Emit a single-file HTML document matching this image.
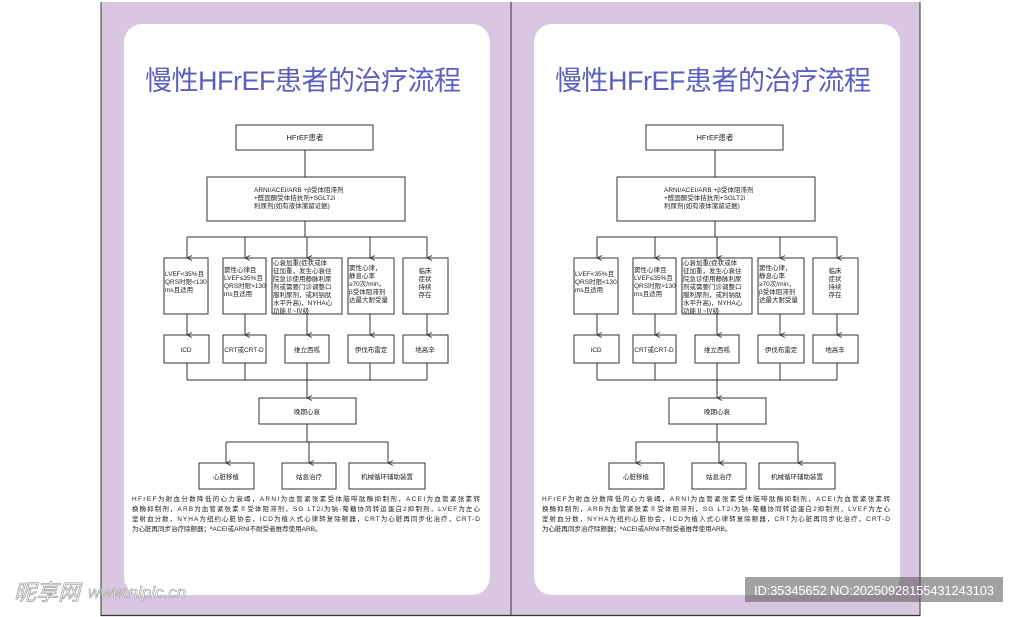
<!DOCTYPE html>
<html><head><meta charset="utf-8"><style>
html,body{margin:0;padding:0;background:#fff;width:1024px;height:617px;overflow:hidden}
svg text{font-family:"Liberation Sans","Noto Sans CJK SC",sans-serif;fill:#222}
</style></head><body>
<svg width="1024" height="617" viewBox="0 0 1024 617" xmlns="http://www.w3.org/2000/svg">
<defs>
<marker id="a" markerWidth="6" markerHeight="6" refX="3" refY="5" orient="auto" markerUnits="userSpaceOnUse"><path d="M0.5,0 L3,5 L5.5,0" fill="none" stroke="#333" stroke-width="0.8"/></marker>
</defs>
<rect x="101" y="2" width="819" height="613" fill="#d9c6e1"/>
<line x1="101" y1="2" x2="101" y2="616" stroke="#333" stroke-width="1"/>
<line x1="920" y1="2" x2="920" y2="616" stroke="#333" stroke-width="1"/>
<line x1="511" y1="2" x2="511" y2="616" stroke="#333" stroke-width="1"/>
<line x1="101" y1="615.5" x2="920" y2="615.5" stroke="#333" stroke-width="1.2"/>

<g id="L">
<rect x="124" y="24" width="366" height="571" rx="18" fill="#fff"/>
<text x="303" y="90" font-size="27" text-anchor="middle" style="fill:#5a5ec0" textLength="316">慢性HFrEF患者的治疗流程</text>
<g fill="none" stroke="#333" stroke-width="1">
<rect x="236" y="125" width="137" height="25"/>
<rect x="207" y="177" width="198" height="44"/>
<line x1="305" y1="150" x2="305" y2="177"/>
<line x1="305" y1="221" x2="305" y2="237"/>
<line x1="187" y1="237" x2="427" y2="237"/>
<line x1="187" y1="237" x2="187" y2="258" marker-end="url(#a)"/>
<line x1="245" y1="237" x2="245" y2="258" marker-end="url(#a)"/>
<line x1="307" y1="237" x2="307" y2="258" marker-end="url(#a)"/>
<line x1="370" y1="237" x2="370" y2="258" marker-end="url(#a)"/>
<line x1="427" y1="237" x2="427" y2="258" marker-end="url(#a)"/>
<rect x="164" y="258" width="44" height="56"/>
<rect x="223" y="258" width="43" height="56"/>
<rect x="272" y="258" width="70" height="56"/>
<rect x="348" y="258" width="46" height="56"/>
<rect x="403" y="258" width="45" height="56"/>
<line x1="187" y1="314" x2="187" y2="335" marker-end="url(#a)"/>
<line x1="245" y1="314" x2="245" y2="335" marker-end="url(#a)"/>
<line x1="307" y1="314" x2="307" y2="335" marker-end="url(#a)"/>
<line x1="370" y1="314" x2="370" y2="335" marker-end="url(#a)"/>
<line x1="427" y1="314" x2="427" y2="335" marker-end="url(#a)"/>
<rect x="164" y="335" width="45" height="28"/>
<rect x="223" y="335" width="43" height="28"/>
<rect x="285" y="335" width="44" height="28"/>
<rect x="348" y="335" width="46" height="28"/>
<rect x="403" y="335" width="45" height="28"/>
<line x1="187" y1="363" x2="187" y2="380"/>
<line x1="245" y1="363" x2="245" y2="380"/>
<line x1="307" y1="363" x2="307" y2="380"/>
<line x1="370" y1="363" x2="370" y2="380"/>
<line x1="427" y1="363" x2="427" y2="380"/>
<line x1="187" y1="380" x2="427" y2="380"/>
<line x1="307" y1="380" x2="307" y2="398" marker-end="url(#a)"/>
<rect x="259" y="398" width="97" height="26"/>
<line x1="307" y1="424" x2="307" y2="442"/>
<line x1="226" y1="442" x2="388" y2="442"/>
<line x1="226" y1="442" x2="226" y2="463" marker-end="url(#a)"/>
<line x1="309" y1="442" x2="309" y2="463" marker-end="url(#a)"/>
<line x1="388" y1="442" x2="388" y2="463" marker-end="url(#a)"/>
<rect x="199" y="463" width="55" height="26"/>
<rect x="282" y="463" width="54" height="26"/>
<rect x="349" y="463" width="76" height="26"/>
</g>
<g font-size="6.5">
<text x="305" y="140" text-anchor="middle" font-size="7.5">HFrEF患者</text>
<text x="254" y="192">ARNI/ACEI/ARB +β受体阻滞剂</text>
<text x="254" y="200">+醛固酮受体拮抗剂+SGLT2i</text>
<text x="254" y="208">利尿剂(如有液体潴留证据)</text>
<text x="165" y="276">LVEF&lt;35%且</text><text x="165" y="284">QRS时限&lt;130</text><text x="165" y="292">ms且适用</text>
<text x="224" y="272">窦性心律且</text><text x="224" y="280">LVEF≤35%且</text><text x="224" y="288">QRS时限&gt;130</text><text x="224" y="296">ms且适用</text>
<text x="273" y="265">心衰加重(症状或体</text><text x="273" y="273">征加重，发生心衰住</text><text x="273" y="281">院急诊使用静脉利尿</text><text x="273" y="289">剂或需要门诊调整口</text><text x="273" y="297">服利尿剂，或利钠肽</text><text x="273" y="305">水平升高)，NYHA心</text><text x="273" y="313">功能Ⅱ~Ⅳ级</text>
<text x="349" y="270">窦性心律，</text><text x="349" y="278">静息心率</text><text x="349" y="286">≥70次/min，</text><text x="349" y="294">β受体阻滞剂</text><text x="349" y="302">达最大耐受量</text>
<text x="425" y="273" text-anchor="middle">临床</text><text x="425" y="281" text-anchor="middle">症状</text><text x="425" y="289" text-anchor="middle">持续</text><text x="425" y="297" text-anchor="middle">存在</text>
<text x="186" y="352" text-anchor="middle">ICD</text>
<text x="244" y="352" text-anchor="middle">CRT或CRT-D</text>
<text x="307" y="352" text-anchor="middle">维立西呱</text>
<text x="371" y="352" text-anchor="middle">伊伐布雷定</text>
<text x="425" y="352" text-anchor="middle">地高辛</text>
<text x="307" y="414" text-anchor="middle">晚期心衰</text>
<text x="226" y="479" text-anchor="middle">心脏移植</text>
<text x="309" y="479" text-anchor="middle">姑息治疗</text>
<text x="387" y="479" text-anchor="middle">机械循环辅助装置</text>
<text x="132" y="501" textLength="348">HFrEF为射血分数降低的心力衰竭，ARNI为血管紧张素受体脑啡肽酶抑制剂，ACEI为血管紧张素转</text>
<text x="132" y="511" textLength="348">换酶抑制剂，ARB为血管紧张素Ⅱ受体阻滞剂，SG LT2i为钠-葡糖协同转运蛋白2抑制剂，LVEF为左心</text>
<text x="132" y="521" textLength="348">室射血分数，NYHA为纽约心脏协会，ICD为植入式心律转复除颤器，CRT为心脏再同步化治疗，CRT-D</text>
<text x="132" y="531">为心脏再同步治疗除颤器；ªACEI或ARNI不耐受者推荐使用ARB。</text>
</g>
</g>

<g transform="translate(410,0)">
<rect x="124" y="24" width="366" height="571" rx="18" fill="#fff"/>
<text x="303" y="90" font-size="27" text-anchor="middle" style="fill:#5a5ec0" textLength="316">慢性HFrEF患者的治疗流程</text>
<g fill="none" stroke="#333" stroke-width="1">
<rect x="236" y="125" width="137" height="25"/>
<rect x="207" y="177" width="198" height="44"/>
<line x1="305" y1="150" x2="305" y2="177"/>
<line x1="305" y1="221" x2="305" y2="237"/>
<line x1="187" y1="237" x2="427" y2="237"/>
<line x1="187" y1="237" x2="187" y2="258" marker-end="url(#a)"/>
<line x1="245" y1="237" x2="245" y2="258" marker-end="url(#a)"/>
<line x1="307" y1="237" x2="307" y2="258" marker-end="url(#a)"/>
<line x1="370" y1="237" x2="370" y2="258" marker-end="url(#a)"/>
<line x1="427" y1="237" x2="427" y2="258" marker-end="url(#a)"/>
<rect x="164" y="258" width="44" height="56"/>
<rect x="223" y="258" width="43" height="56"/>
<rect x="272" y="258" width="70" height="56"/>
<rect x="348" y="258" width="46" height="56"/>
<rect x="403" y="258" width="45" height="56"/>
<line x1="187" y1="314" x2="187" y2="335" marker-end="url(#a)"/>
<line x1="245" y1="314" x2="245" y2="335" marker-end="url(#a)"/>
<line x1="307" y1="314" x2="307" y2="335" marker-end="url(#a)"/>
<line x1="370" y1="314" x2="370" y2="335" marker-end="url(#a)"/>
<line x1="427" y1="314" x2="427" y2="335" marker-end="url(#a)"/>
<rect x="164" y="335" width="45" height="28"/>
<rect x="223" y="335" width="43" height="28"/>
<rect x="285" y="335" width="44" height="28"/>
<rect x="348" y="335" width="46" height="28"/>
<rect x="403" y="335" width="45" height="28"/>
<line x1="187" y1="363" x2="187" y2="380"/>
<line x1="245" y1="363" x2="245" y2="380"/>
<line x1="307" y1="363" x2="307" y2="380"/>
<line x1="370" y1="363" x2="370" y2="380"/>
<line x1="427" y1="363" x2="427" y2="380"/>
<line x1="187" y1="380" x2="427" y2="380"/>
<line x1="307" y1="380" x2="307" y2="398" marker-end="url(#a)"/>
<rect x="259" y="398" width="97" height="26"/>
<line x1="307" y1="424" x2="307" y2="442"/>
<line x1="226" y1="442" x2="388" y2="442"/>
<line x1="226" y1="442" x2="226" y2="463" marker-end="url(#a)"/>
<line x1="309" y1="442" x2="309" y2="463" marker-end="url(#a)"/>
<line x1="388" y1="442" x2="388" y2="463" marker-end="url(#a)"/>
<rect x="199" y="463" width="55" height="26"/>
<rect x="282" y="463" width="54" height="26"/>
<rect x="349" y="463" width="76" height="26"/>
</g>
<g font-size="6.5">
<text x="305" y="140" text-anchor="middle" font-size="7.5">HFrEF患者</text>
<text x="254" y="192">ARNI/ACEI/ARB +β受体阻滞剂</text>
<text x="254" y="200">+醛固酮受体拮抗剂+SGLT2i</text>
<text x="254" y="208">利尿剂(如有液体潴留证据)</text>
<text x="165" y="276">LVEF&lt;35%且</text><text x="165" y="284">QRS时限&lt;130</text><text x="165" y="292">ms且适用</text>
<text x="224" y="272">窦性心律且</text><text x="224" y="280">LVEF≤35%且</text><text x="224" y="288">QRS时限&gt;130</text><text x="224" y="296">ms且适用</text>
<text x="273" y="265">心衰加重(症状或体</text><text x="273" y="273">征加重，发生心衰住</text><text x="273" y="281">院急诊使用静脉利尿</text><text x="273" y="289">剂或需要门诊调整口</text><text x="273" y="297">服利尿剂，或利钠肽</text><text x="273" y="305">水平升高)，NYHA心</text><text x="273" y="313">功能Ⅱ~Ⅳ级</text>
<text x="349" y="270">窦性心律，</text><text x="349" y="278">静息心率</text><text x="349" y="286">≥70次/min，</text><text x="349" y="294">β受体阻滞剂</text><text x="349" y="302">达最大耐受量</text>
<text x="425" y="273" text-anchor="middle">临床</text><text x="425" y="281" text-anchor="middle">症状</text><text x="425" y="289" text-anchor="middle">持续</text><text x="425" y="297" text-anchor="middle">存在</text>
<text x="186" y="352" text-anchor="middle">ICD</text>
<text x="244" y="352" text-anchor="middle">CRT或CRT-D</text>
<text x="307" y="352" text-anchor="middle">维立西呱</text>
<text x="371" y="352" text-anchor="middle">伊伐布雷定</text>
<text x="425" y="352" text-anchor="middle">地高辛</text>
<text x="307" y="414" text-anchor="middle">晚期心衰</text>
<text x="226" y="479" text-anchor="middle">心脏移植</text>
<text x="309" y="479" text-anchor="middle">姑息治疗</text>
<text x="387" y="479" text-anchor="middle">机械循环辅助装置</text>
<text x="132" y="501" textLength="348">HFrEF为射血分数降低的心力衰竭，ARNI为血管紧张素受体脑啡肽酶抑制剂，ACEI为血管紧张素转</text>
<text x="132" y="511" textLength="348">换酶抑制剂，ARB为血管紧张素Ⅱ受体阻滞剂，SG LT2i为钠-葡糖协同转运蛋白2抑制剂，LVEF为左心</text>
<text x="132" y="521" textLength="348">室射血分数，NYHA为纽约心脏协会，ICD为植入式心律转复除颤器，CRT为心脏再同步化治疗，CRT-D</text>
<text x="132" y="531">为心脏再同步治疗除颤器；ªACEI或ARNI不耐受者推荐使用ARB。</text>
</g>
</g>

<text x="14" y="600" font-size="22" font-style="italic" style="fill:#fff;stroke:#999;stroke-width:0.7">昵享网</text>
<text x="88" y="598" font-size="17" font-style="italic" style="fill:#fff;stroke:#999;stroke-width:0.6">www.nipic.cn</text>
<rect x="745" y="577" width="258" height="25" fill="#555" fill-opacity="0.55"/>
<text x="874" y="595" font-size="13" text-anchor="middle" style="fill:#fff" textLength="240">ID:35345652 NO:20250928155431243103</text>
</svg>
</body></html>
